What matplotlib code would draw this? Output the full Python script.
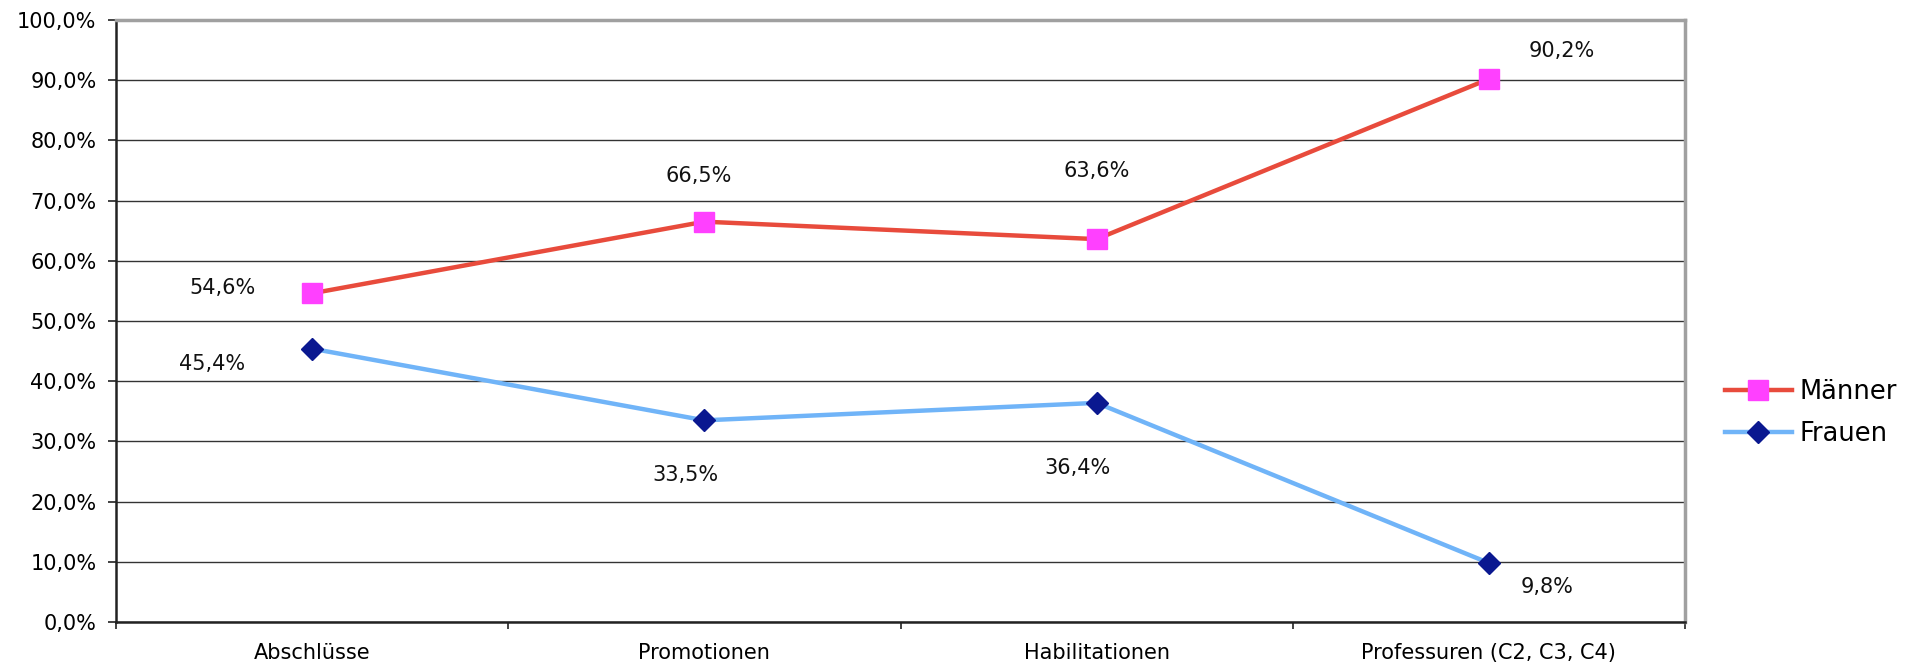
# -*- coding: utf-8 -*-
""" Anteil Männer / Frauen nach Qualifikationsstufe """

import matplotlib
matplotlib.use('Agg')
import matplotlib.pyplot as plt
from matplotlib.ticker import FuncFormatter

# Data
stufen = ['Abschlüsse', 'Promotionen', 'Habilitationen',
          'Professuren (C2, C3, C4)']
maenner = [54.6, 66.5, 63.6, 90.2]
frauen = [45.4, 33.5, 36.4, 9.8]

# label offsets in pixels (dx, dy) relative to each point
offM = [(-90, 5), (-6, 46), (0, 68), (73, 28)]
offF = [(-100, -15), (-19, -55), (-19, -65), (58, -24)]

plt.rcParams['font.family'] = 'DejaVu Sans'

fig = plt.figure(figsize=(19.17, 6.68), dpi=100)
ax = fig.add_axes([116/1917, 1 - 622/668, (1685 - 116)/1917, (622 - 20)/668])

x = list(range(len(stufen)))
ax.plot(x, maenner, color='#E84B3C', lw=3.2, marker='s', markersize=15,
        markerfacecolor='#FF40FF', markeredgecolor='#FF40FF', label='Männer',
        zorder=3)
ax.plot(x, frauen, color='#70B4F8', lw=3.2, marker='D', markersize=11.5,
        markerfacecolor='#0A1890', markeredgecolor='#0A1890', label='Frauen',
        zorder=3)

fmt = lambda v: ('%.1f' % v).replace('.', ',') + '%'
for i in x:
    ax.annotate(fmt(maenner[i]), (i, maenner[i]), xytext=offM[i],
                textcoords='offset pixels', ha='center', va='center',
                fontsize=15, color='#111111')
    ax.annotate(fmt(frauen[i]), (i, frauen[i]), xytext=offF[i],
                textcoords='offset pixels', ha='center', va='center',
                fontsize=15, color='#111111')

ax.set_xlim(-0.5, 3.5)
ax.set_ylim(0, 100)
ax.set_yticks(range(0, 101, 10))
ax.yaxis.set_major_formatter(FuncFormatter(lambda v, p: fmt(v)))
ax.set_xticks(x)
ax.set_xticklabels(stufen)
ax.set_xticks([-0.5, 0.5, 1.5, 2.5, 3.5], minor=True)
ax.tick_params(axis='x', which='major', length=0, pad=15, labelsize=15)
ax.tick_params(axis='x', which='minor', length=5, width=1.2, color='#222222')
ax.tick_params(axis='y', length=6, width=1.2, pad=8, labelsize=15,
               color='#222222')

ax.grid(axis='y', color='#333333', lw=1)
ax.set_axisbelow(True)
for s in ['top', 'right']:
    ax.spines[s].set_color('#A0A0A0')
    ax.spines[s].set_linewidth(2.5)
for s in ['left', 'bottom']:
    ax.spines[s].set_color('#222222')
    ax.spines[s].set_linewidth(1.8)

fig.legend(loc='center left', bbox_to_anchor=(1712/1917, 1 - 413/668),
           frameon=False, fontsize=18.5, handlelength=2.6, handletextpad=0.3,
           labelspacing=0.6, borderpad=0)

fig.savefig('out.png', dpi=100)
